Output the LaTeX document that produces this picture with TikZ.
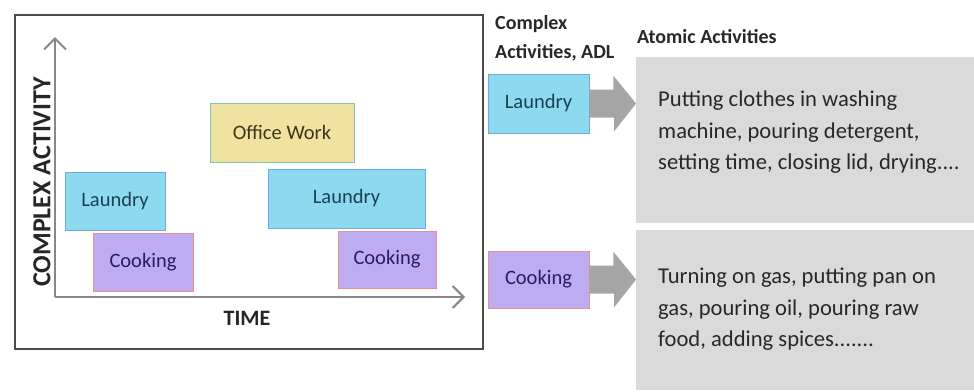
\documentclass[tikz,border=0pt]{standalone}
\usepackage{fontspec}
\setmainfont{Carlito}
\begin{document}
\begin{tikzpicture}[x=1pt,y=-1pt,
  laundrybox/.style={fill=lcyan, draw=lcyanb, line width=0.5pt, inner sep=0pt, font=\fontsize{20.5}{24}\selectfont, text=ltext},
  cookingbox/.style={fill=cpurple, draw=cpurpleb, line width=0.5pt, inner sep=0pt, font=\fontsize{20.5}{24}\selectfont, text=ctext},
  officebox/.style={fill=oyellow, draw=oyellowb, line width=0.5pt, inner sep=0pt, font=\fontsize{20.5}{24}\selectfont, text=otext},
  graybox/.style={fill=gbox, draw=none, inner sep=0pt},
  axisline/.style={draw=axgray, line width=2.5pt, -{Straight Barb[length=11pt,width=22pt,line width=2pt]}},
  bigarrow/.style={fill=arrgray, draw=none},
  atomtext/.style={anchor=north west, align=left, text=dtext, font=\fontsize{22.6}{31.5}\selectfont, inner sep=0pt},
  headtext/.style={anchor=west, align=left, text=dtext, font=\bfseries\fontsize{20}{29}\selectfont, inner sep=0pt}
]
\definecolor{lcyan}{RGB}{141,217,240}
\definecolor{lcyanb}{RGB}{110,170,220}
\definecolor{ltext}{RGB}{28,64,80}
\definecolor{cpurple}{RGB}{190,172,240}
\definecolor{cpurpleb}{RGB}{240,140,140}
\definecolor{ctext}{RGB}{40,30,95}
\definecolor{oyellow}{RGB}{241,226,162}
\definecolor{oyellowb}{RGB}{120,200,180}
\definecolor{otext}{RGB}{60,55,25}
\definecolor{gbox}{RGB}{218,218,218}
\definecolor{arrgray}{RGB}{165,165,165}
\definecolor{axgray}{RGB}{135,135,135}
\definecolor{dtext}{RGB}{40,40,40}
\usetikzlibrary{arrows.meta}
\useasboundingbox (0,0) rectangle (974,391);
\fill[white] (0,0) rectangle (974,391);

% outer frame
\draw[line width=1.3pt, draw=black!70] (15,15) rectangle (483,349);

% axes
\coordinate (origin) at (55,297);
\coordinate (ytip) at (55,37);
\coordinate (xtip) at (465,297);
\draw[axisline] (origin) -- (ytip);
\draw[axisline] (origin) -- (xtip);
\node[font=\bfseries\fontsize{26}{28}\selectfont, text=black!85, rotate=90] (ylab) at (42,182) {COMPLEX ACTIVITY};
\node[font=\bfseries\fontsize{22}{24}\selectfont, text=black!85] (xlab) at (247,318) {TIME};

% activity boxes in chart
\node[laundrybox, minimum width=100pt, minimum height=58pt] (l1) at (115,201) {Laundry};
\node[cookingbox, minimum width=100pt, minimum height=58pt] (c1) at (143,262) {Cooking};
\node[officebox, minimum width=144pt, minimum height=59pt] (ow) at (282,132.5) {Office Work};
\node[laundrybox, minimum width=157pt, minimum height=59pt] (l2) at (346.5,198.5) {Laundry};
\node[cookingbox, minimum width=98pt, minimum height=57pt] (c2) at (387,259.5) {Cooking};

% headers
\node[headtext] (h1a) at (495,24) {Complex};
\node[headtext] (h1b) at (495,53) {Activities, ADL};
\node[headtext] (h2) at (637,37) {Atomic Activities};

% gray boxes
\node[graybox, minimum width=340pt, minimum height=166pt, anchor=north west] (g1) at (636,57) {};
\node[graybox, minimum width=340pt, minimum height=160pt, anchor=north west] (g2) at (636,230) {};
\node[atomtext] (t1) at (658,91) {Putting clothes in washing\\machine, pouring detergent,\\setting time, closing lid, drying....};
\node[atomtext] (t2) at (658,268) {Turning on gas, putting pan on\\gas, pouring oil, pouring raw\\food, adding spices.......};

% right boxes
\node[laundrybox, minimum width=101pt, minimum height=59pt] (lr) at (538.5,103.5) {Laundry};
\node[cookingbox, minimum width=101pt, minimum height=57pt] (cr) at (538.5,279.5) {Cooking};

% block arrows
\fill[bigarrow] (lr.east) ++(0,-14) -- ++(24,0) -- ++(0,-14) -- (g1.west |- lr.east) -- ++(-22,28) -- ++(0,-14) -- ++(-24,0) -- cycle;
\fill[bigarrow] (cr.east) ++(0,-14) -- ++(24,0) -- ++(0,-14) -- (g2.west |- cr.east) -- ++(-22,28) -- ++(0,-14) -- ++(-24,0) -- cycle;
\end{tikzpicture}
\end{document}
